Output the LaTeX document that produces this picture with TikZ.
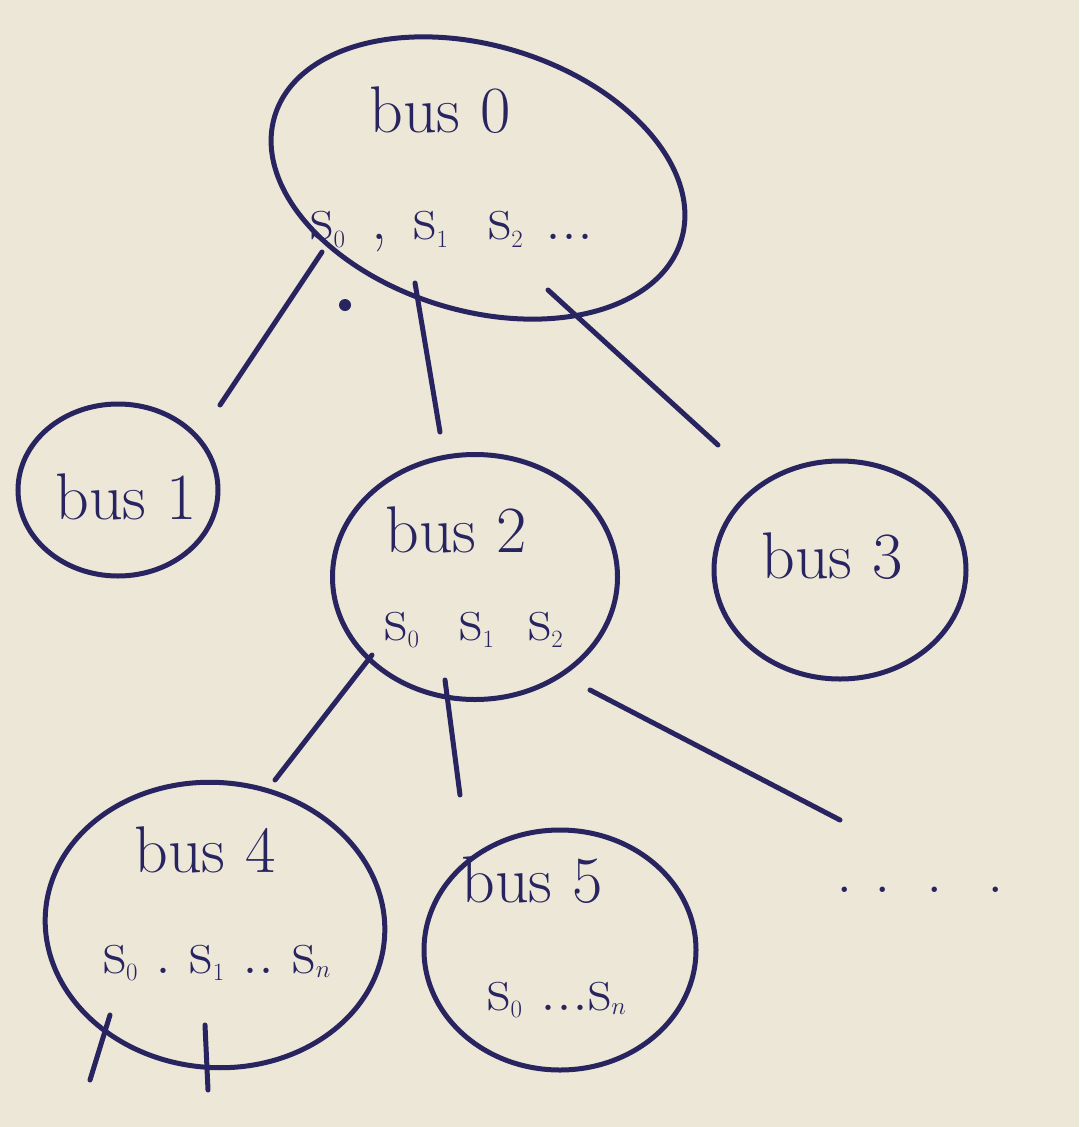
\documentclass[tikz,border=0pt]{standalone}
\usetikzlibrary{shapes.geometric}
\definecolor{ink}{HTML}{28245F}
\definecolor{paper}{HTML}{EDE7D8}
\tikzset{
  bubble/.style={ellipse, draw=ink, line width=5pt, inner sep=0pt},
  lbl/.style={text=ink, font=\fontsize{66}{72}\selectfont, inner sep=0pt},
  slbl/.style={text=ink, font=\fontsize{64}{70}\selectfont, inner sep=0pt},
  wire/.style={draw=ink, line width=5pt, line cap=round},
  inkdot/.style={circle, fill=ink, inner sep=0pt, minimum size=12pt}
}
\begin{document}
\begin{tikzpicture}[x=1pt,y=-1pt]
\fill[paper] (0,0) rectangle (1079,1127);
\useasboundingbox (0,0) rectangle (1079,1127);
% bubbles
\node[bubble, minimum width=425pt, minimum height=265pt, rotate=-17] (b0) at (478,178) {};
\node[bubble, minimum width=200pt, minimum height=172pt] (b1) at (118,490) {};
\node[bubble, minimum width=285pt, minimum height=245pt] (b2) at (475,577) {};
\node[bubble, minimum width=252pt, minimum height=218pt] (b3) at (840,570) {};
\node[bubble, minimum width=340pt, minimum height=285pt, rotate=-5] (b4) at (215,925) {};
\node[bubble, minimum width=272pt, minimum height=240pt] (b5) at (560,950) {};
% labels
\node[lbl] (t0) at (440,110) {bus 0};
\node[slbl] (s0) at (452,232) {s$_0$\hspace{26pt},\hspace{26pt}s$_1$\hspace{40pt}s$_2$\hspace{22pt}...};
\node[lbl] (t1) at (126,497) {bus 1};
\node[lbl] (t2) at (456,530) {bus 2};
\node[slbl] (s2) at (474,630) {s$_0$\hspace{40pt}s$_1$\hspace{34pt}s$_2$};
\node[lbl] (t3) at (832,556) {bus 3};
\node[lbl] (t4) at (205,850) {bus 4};
\node[slbl] (s4) at (217,963) {s$_0$\hspace{18pt}.\hspace{18pt}s$_1$\hspace{18pt}..\hspace{18pt}s$_n$};
\node[lbl] (t5) at (532,880) {bus 5};
\node[slbl] (s5) at (557,1000) {s$_0$\hspace{18pt}...s$_n$};
\node[text=ink, font=\fontsize{66}{72}\selectfont, inner sep=0pt] (dots) at (920,890) {.\hspace{22pt}.\hspace{36pt}.\hspace{44pt}.};
% connector end points
\coordinate (a0) at (322,252); \coordinate (e1) at (220,405);
\coordinate (a1) at (415,283); \coordinate (e2) at (440,432);
\coordinate (a2) at (548,290); \coordinate (e3) at (718,445);
\coordinate (c0) at (372,655); \coordinate (e4) at (275,780);
\coordinate (c1) at (445,680); \coordinate (e5) at (460,795);
\coordinate (c2) at (590,690); \coordinate (e6) at (840,820);
\coordinate (d0) at (110,1015); \coordinate (f0) at (90,1080);
\coordinate (d1) at (205,1025); \coordinate (f1) at (208,1090);
\draw[wire] (a0) -- (e1);
\draw[wire] (a1) -- (e2);
\draw[wire] (a2) -- (e3);
\draw[wire] (c0) -- (e4);
\draw[wire] (c1) -- (e5);
\draw[wire] (c2) -- (e6);
\draw[wire] (d0) -- (f0);
\draw[wire] (d1) -- (f1);
\node[inkdot] (p0) at (345,305) {};
\end{tikzpicture}
\end{document}
